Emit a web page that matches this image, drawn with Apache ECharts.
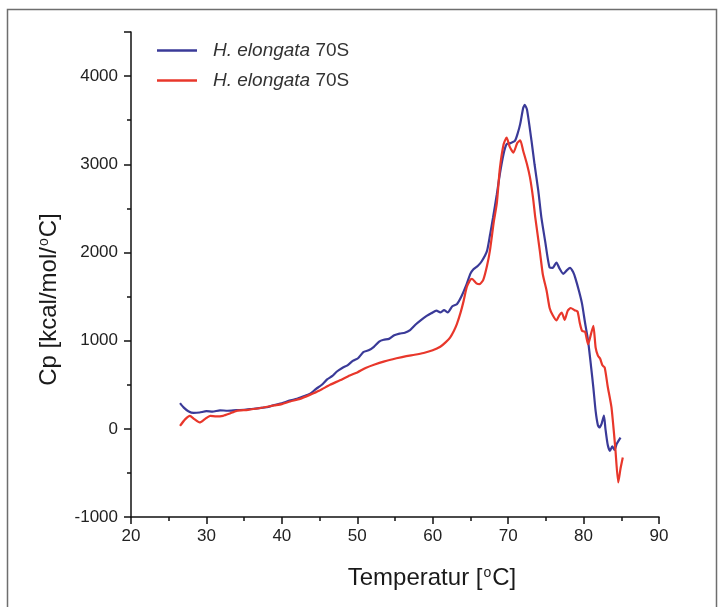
<!DOCTYPE html>
<html>
<head>
<meta charset="utf-8">
<script src="https://cdn.jsdelivr.net/npm/echarts@6/dist/echarts.min.js"></script>
<style>html,body{margin:0;padding:0;background:#fff}#c{width:720px;height:607px}</style>
</head>
<body>
<div id="c"></div>
<script>
// Blue trace (temperature °C, Cp kcal/mol/°C)
var blueT = [26.5,27.0,27.6,28.3,29.1,30.0,30.8,31.8,32.8,34.0,35.0,36.0,37.0,38.0,39.0,40.0,41.0,42.0,42.8,43.7,44.5,45.3,46.0,46.7,47.3,48.0,48.7,49.4,50.1,50.8,51.5,52.2,52.9,53.5,54.2,54.9,55.6,56.3,57.0,57.7,58.4,59.2,59.8,60.5,61.0,61.5,62.0,62.6,63.2,63.8,64.5,65.0,65.4,66.0,66.5,67.2,67.6,68.0,68.5,68.9,69.4,69.8,70.3,70.9,71.3,71.6,72.0,72.2,72.5,73.1,73.5,74.0,74.4,74.9,75.5,75.9,76.4,76.8,77.3,77.8,78.2,78.6,78.9,79.4,79.8,80.2,80.6,81.0,81.3,81.6,81.9,82.1,82.4,82.7,82.9,83.2,83.5,83.8,84.1,84.4,84.9];
var blueCp = [291,240,200,180,185,200,195,210,205,212,215,225,235,245,270,290,320,340,365,395,450,500,560,600,650,690,720,770,800,870,890,930,990,1010,1020,1060,1080,1090,1120,1180,1230,1280,1310,1340,1320,1345,1320,1390,1413,1500,1640,1760,1810,1850,1900,2018,2200,2396,2660,2890,3120,3228,3240,3265,3360,3458,3640,3673,3620,3265,3000,2698,2400,2131,1829,1825,1886,1820,1757,1800,1825,1780,1712,1560,1417,1200,998,700,465,200,40,15,60,150,0,-180,-250,-200,-240,-170,-100];
// Red trace
var redT = [26.5,27.2,27.8,28.4,29.1,29.8,30.5,31.3,32.2,33.0,34.0,35.5,37.5,39.0,40.0,41.1,42.4,43.7,45.0,46.4,47.7,49.0,50.0,51.1,52.3,53.6,55.2,56.5,57.6,58.8,60.0,61.0,61.7,62.3,62.8,63.2,63.7,64.1,64.5,64.9,65.2,65.8,66.2,66.7,67.2,67.6,68.1,68.5,68.9,69.4,69.8,70.2,70.7,71.2,71.6,72.0,72.5,72.9,73.3,73.6,74.2,74.6,75.1,75.5,75.9,76.4,76.8,77.1,77.5,77.9,78.3,78.8,79.2,79.5,79.8,80.2,80.6,81.0,81.3,81.6,81.9,82.2,82.5,82.8,83.2,83.7,84.2,84.6,84.9,85.2];
var redCp = [34,110,147,110,72,110,147,140,147,170,204,215,242,265,280,310,340,385,435,500,550,605,640,690,730,765,800,825,840,860,890,930,980,1035,1110,1187,1320,1451,1602,1678,1700,1650,1640,1690,1850,2030,2350,2560,2950,3228,3303,3200,3133,3240,3270,3150,3000,2849,2620,2396,2018,1750,1565,1370,1290,1230,1290,1319,1236,1340,1370,1345,1330,1200,1110,1100,960,1080,1168,920,830,794,720,695,480,242,-212,-609,-450,-325];
var seriesNames = ['H. elongata 70S', 'H. elongata 70S '];
var xTicks = [20,30,40,50,60,70,80,90];
var yTicks = [-1000,0,1000,2000,3000,4000];

function pairs(a, b) { return a.map(function (v, i) { return [v, b[i]]; }); }

var chart = echarts.init(document.getElementById('c'), null, {renderer: 'canvas'});
var FONT = '"Liberation Sans", Arial, sans-serif';
var BLUE = '#3a3a98', RED = '#e8372b';
chart.setOption({
  animation: false,
  backgroundColor: '#fff',
  graphic: [{
    type: 'rect', shape: {x: 7.5, y: 9.5, width: 709, height: 620},
    style: {fill: 'none', stroke: '#6e6e6e', lineWidth: 1.5}, silent: true, z: -1
  }],
  grid: {left: 131, right: 61, top: 32, bottom: 90},
  legend: {
    orient: 'vertical', left: 152, top: 36, itemWidth: 40, itemHeight: 2.5, itemGap: 11,
    icon: 'rect',
    data: [{name: seriesNames[0], itemStyle: {color: BLUE}}, {name: seriesNames[1], itemStyle: {color: RED}}],
    formatter: function () { return '{i|H. elongata} {n|70S}'; },
    textStyle: {fontFamily: FONT, fontSize: 19, color: '#333', padding: [0, 0, 0, 11],
      rich: {i: {fontStyle: 'italic', fontSize: 19, fontFamily: FONT, color: '#333'},
             n: {fontSize: 19, fontFamily: FONT, color: '#333'}}}
  },
  xAxis: {
    type: 'value', min: 20, max: 90, interval: 10,
    name: 'Temperatur [{s|o}C]', nameLocation: 'middle', nameGap: 49,
    nameTextStyle: {fontFamily: FONT, fontSize: 24, color: '#1a1a1a', padding: [0, 0, 0, 74],
      rich: {s: {fontSize: 14, fontFamily: FONT, color: '#1a1a1a', verticalAlign: 'top', padding: [0, 1, 10, 1]}}},
    axisLine: {onZero: false, lineStyle: {color: '#111', width: 1.5}},
    axisTick: {show: true, inside: false, length: 7, lineStyle: {color: '#111', width: 1.5}},
    minorTick: {show: true, splitNumber: 2, length: 4, lineStyle: {color: '#111', width: 1.5}},
    splitLine: {show: false},
    axisLabel: {fontFamily: FONT, fontSize: 17, color: '#222', margin: 11,
      formatter: function (v) { return xTicks.indexOf(v) >= 0 ? String(v) : ''; }}
  },
  yAxis: {
    type: 'value', min: -1000, max: 4500, interval: 1000,
    name: 'Cp [kcal/mol/{s|o}C]', nameLocation: 'middle', nameGap: 70,
    nameTextStyle: {fontFamily: FONT, fontSize: 24, color: '#1a1a1a', padding: [0, 50, 0, 0],
      rich: {s: {fontSize: 14, fontFamily: FONT, color: '#1a1a1a', verticalAlign: 'top', padding: [0, 1, 10, 1]}}},
    axisLine: {show: true, onZero: false, lineStyle: {color: '#111', width: 1.5}},
    axisTick: {show: true, inside: false, length: 7, lineStyle: {color: '#111', width: 1.5}},
    minorTick: {show: true, splitNumber: 2, length: 4, lineStyle: {color: '#111', width: 1.5}},
    splitLine: {show: false},
    axisLabel: {fontFamily: FONT, fontSize: 17, color: '#222', margin: 13,
      formatter: function (v) { return yTicks.indexOf(v) >= 0 ? String(v) : ''; }}
  },
  series: [
    {name: seriesNames[0], type: 'line', data: pairs(blueT, blueCp), symbol: 'none', smooth: 0.2,
      lineStyle: {color: BLUE, width: 2.2}, itemStyle: {color: BLUE}},
    {name: seriesNames[1], type: 'line', data: pairs(redT, redCp), symbol: 'none', smooth: 0.2,
      lineStyle: {color: RED, width: 2.2}, itemStyle: {color: RED}}
  ]
});
</script>
</body>
</html>
